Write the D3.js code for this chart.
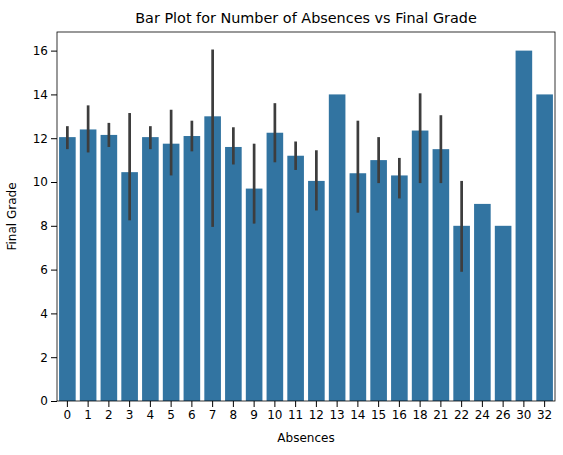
<!DOCTYPE html>
<html><head><meta charset="utf-8">
<script src="https://cdn.jsdelivr.net/npm/d3@7"></script>
<style>body{margin:0;background:#fff}text{font-family:"DejaVu Sans",sans-serif}</style>
</head><body>
<script>
// absences categories, mean final grade, and 95% CI bounds (null = single sample)
var absences = ["0","1","2","3","4","5","6","7","8","9","10","11","12","13","14","15","16","18","21","22","24","26","30","32"];
var grade = [12.05,12.4,12.15,10.45,12.05,11.75,12.1,13.0,11.6,9.7,12.25,11.2,10.05,14,10.4,11.0,10.3,12.35,11.5,8,9,8,16,14];
var ciLow = [11.5,11.35,11.6,8.25,11.5,10.3,11.4,7.95,10.8,8.1,10.9,10.55,8.7,null,8.6,9.95,9.25,9.95,9.95,5.9,null,null,null,null];
var ciHigh = [12.55,13.5,12.7,13.15,12.55,13.3,12.8,16.05,12.5,11.75,13.6,11.85,11.45,null,12.8,12.05,11.1,14.05,13.05,10.05,null,null,null,null];
var yTicks = [0,2,4,6,8,10,12,14,16];

var margin = {top: 32, right: 8, bottom: 54, left: 57};
var width = 563 - margin.left - margin.right;
var height = 455 - margin.top - margin.bottom;

var svg = d3.select("body").append("svg")
    .attr("width", 563).attr("height", 455)
    .append("g")
    .attr("transform", "translate(" + margin.left + "," + margin.top + ")");

var x = d3.scaleBand().domain(absences).range([0, width]).paddingInner(0.2).paddingOuter(0.1);
var y = d3.scaleLinear().domain([0, 16.85]).range([height, 0]);

var rows = absences.map(function(a, i) { return {a: a, v: grade[i], lo: ciLow[i], hi: ciHigh[i]}; });

// bars
svg.selectAll(".bar").data(rows).enter().append("rect")
    .attr("x", function(d) { return x(d.a); })
    .attr("width", x.bandwidth())
    .attr("y", function(d) { return y(d.v); })
    .attr("height", function(d) { return height - y(d.v); })
    .attr("fill", "#3274a1");

// error bars
svg.selectAll(".err").data(rows.filter(function(d) { return d.lo !== null; })).enter().append("line")
    .attr("x1", function(d) { return x(d.a) + x.bandwidth() / 2; })
    .attr("x2", function(d) { return x(d.a) + x.bandwidth() / 2; })
    .attr("y1", function(d) { return y(d.lo); })
    .attr("y2", function(d) { return y(d.hi); })
    .attr("stroke", "#3d3d3d").attr("stroke-width", 2.7);

// axes
var xa = svg.append("g").attr("transform", "translate(0," + height + ")").call(d3.axisBottom(x).tickSizeOuter(0));
var ya = svg.append("g").call(d3.axisLeft(y).tickValues(yTicks).tickSizeOuter(0));
[xa, ya].forEach(function(g) {
    g.selectAll("text").attr("font-size", 12).attr("fill", "#000");
    g.select(".domain").remove();
});
svg.append("rect").attr("width", width).attr("height", height)
    .attr("fill", "none").attr("stroke", "#000").attr("stroke-width", 0.8);

// labels
svg.append("text").attr("x", width / 2).attr("y", height + 41)
    .attr("text-anchor", "middle").attr("font-size", 12).text("Absences");
svg.append("text").attr("transform", "rotate(-90)")
    .attr("x", -height / 2).attr("y", -41)
    .attr("text-anchor", "middle").attr("font-size", 12).text("Final Grade");
svg.append("text").attr("x", width / 2).attr("y", -9)
    .attr("text-anchor", "middle").attr("font-size", 14.4).text("Bar Plot for Number of Absences vs Final Grade");
</script>
</body></html>
